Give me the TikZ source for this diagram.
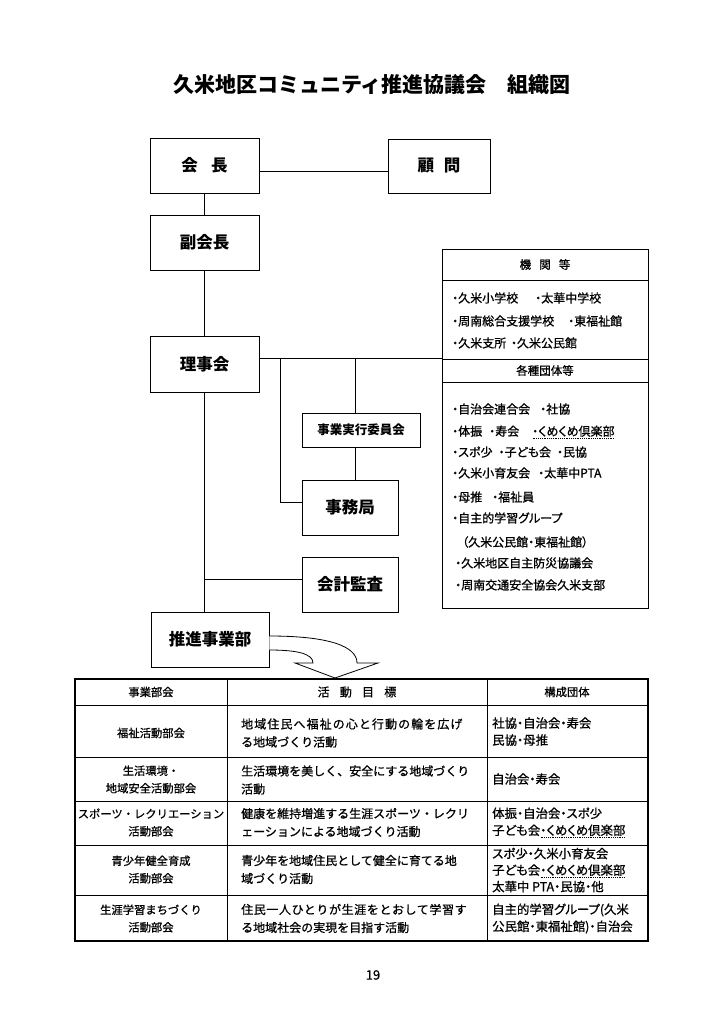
\documentclass[tikz,border=0pt]{standalone}
\usepackage{fontspec}
\setmainfont{Noto Sans CJK JP}
\newfontfamily\jpr[FakeBold=0.8]{Noto Sans CJK JP}
\newfontfamily\jpp[RawFeature=+palt,FakeBold=0.8]{Noto Sans CJK JP}
\usetikzlibrary{calc}
\newcommand\myDotUL[1]{\setbox0=\hbox{#1}\rlap{\raisebox{-2.6pt}{\hbox to \wd0{\xleaders\hbox to 1.8pt{\hss\rule{1pt}{0.6pt}\hss}\hfill}}}\box0}
\begin{document}
\begin{tikzpicture}[x=1pt,y=-1pt,
  box/.style={draw,line width=0.9pt,inner sep=0pt,font=\fontsize{16.5}{18}\selectfont\bfseries},
  ln/.style={line width=0.9pt},
  rbx/.style={draw,line width=0.9pt,inner sep=0pt,minimum width=206pt,font=\jpr\fontsize{11.5}{13}\selectfont},
  rt/.style={anchor=west,inner sep=0pt,font=\jpp\fontsize{12}{14}\selectfont},
  c1/.style={inner sep=0pt,align=center,font=\jpr\fontsize{11.3}{17.5}\selectfont},
  c2/.style={anchor=west,inner sep=0pt,align=left,font=\jpr\fontsize{12}{18}\selectfont},
  c3/.style={anchor=west,inner sep=0pt,align=left,font=\jpp\fontsize{12.4}{17}\selectfont},
  tout/.style={line width=1.4pt},
  tin/.style={line width=0.8pt}]
\useasboundingbox[fill=white] (0,0) rectangle (724,1024);

% title
\node[inner sep=0pt] (title) at (372,85) {\fontsize{21}{24}\selectfont\bfseries 久米地区コミュニティ推進協議会\hspace{1em}組織図};

% main boxes
\node[box,minimum width=109pt,minimum height=55pt] (kaicho) at (204.5,165.5) {会\hspace{0.8em}長};
\node[box,minimum width=102pt,minimum height=54pt] (komon) at (439,166) {顧\hspace{0.6em}問};
\node[box,minimum width=109pt,minimum height=55pt] (fuku) at (204.5,242.5) {副会長};
\node[box,minimum width=109pt,minimum height=56pt] (riji) at (204.5,364) {理事会};
\node[box,minimum width=118pt,minimum height=34pt,font=\fontsize{12.5}{14}\selectfont\bfseries] (jikko) at (361,430) {事業実行委員会};
\node[box,minimum width=96pt,minimum height=55pt] (jimu) at (350,507.5) {事務局};
\node[box,minimum width=96pt,minimum height=55pt] (kansa) at (350,584.5) {会計監査};
\node[box,minimum width=118pt,minimum height=55pt] (suishin) at (210,639.5) {推進事業部};

% right box
\node[rbx,minimum height=31pt] (rh1) at (545,264.5) {機\hspace{0.7em}関\hspace{0.7em}等};
\node[rbx,minimum height=79pt] (rb1) at (545,319.5) {};
\node[rbx,minimum height=23pt] (rh2) at (545,370.5) {各種団体等};
\node[rbx,minimum height=226pt] (rb2) at (545,495) {};

\node[rt] (r1) at (452,298) {\makebox[83pt][l]{・久米小学校}・太華中学校};
\node[rt] (r2) at (452,321) {\makebox[116pt][l]{・周南総合支援学校}・東福祉館};
\node[rt] (r3) at (452,343) {・久米支所\hspace{0.4em}・久米公民館};
\node[rt] (r4) at (452,409) {\makebox[88pt][l]{・自治会連合会}・社協};
\node[rt] (r5) at (452,432) {\makebox[37pt][l]{・体振}\makebox[43pt][l]{・寿会}\myDotUL{・くめくめ倶楽部}};
\node[rt] (r6) at (452,452) {・スポ少\hspace{0.5em}・子ども会\hspace{0.5em}・民協};
\node[rt] (r7) at (452,473) {\makebox[86pt][l]{・久米小育友会}・太華中PTA};
\node[rt] (r8) at (452,497) {\makebox[40pt][l]{・母推}・福祉員};
\node[rt] (r9) at (452,518) {・自主的学習グループ};
\node[rt] (r10) at (462,542) {（久米公民館・東福祉館）};
\node[rt] (r11) at (455,563) {・久米地区自主防災協議会};
\node[rt] (r12) at (455,585) {・周南交通安全協会久米支部};

% connectors
\draw[ln] ([yshift=-5.5pt]kaicho.east) -- ([yshift=-5.5pt]kaicho.east -| komon.west);
\draw[ln] (kaicho) -- (fuku);
\draw[ln] (fuku) -- (riji);
\draw[ln] (riji.south) -- (riji.south |- suishin.north);
\draw[ln] ([yshift=6pt]riji.east) -- ([yshift=6pt]riji.east -| rh2.west);
\coordinate (t1) at (280,358);
\coordinate (t2) at (355,358);
\draw[ln] (t1) |- ([yshift=5.5pt]jimu.west);
\draw[ln] (t2) -- (t2 |- jikko.north);
\draw[ln] (t2 |- jikko.south) -- (t2 |- jimu.north);
\coordinate (k1) at (204.5,579);
\draw[ln] (k1) -- (k1 -| kansa.west);

% curved arrow
\draw[line width=0.8pt,fill=white] ($(suishin.east)+(0,-3.5)$) .. controls (328,636) and (357,646) .. (357,663) -- (378,663) -- (335,678) -- (295,663) -- (313,663) .. controls (313,654) and (298,650) .. ($(suishin.east)+(0,10.5)$);

% table grid
\draw[tin] (75,705) -- (648,705);
\draw[tin] (75,757) -- (648,757);
\draw[tin] (75,801) -- (648,801);
\draw[tin] (75,845) -- (648,845);
\draw[tin] (75,895) -- (648,895);
\draw[tin] (227,679) -- (227,941);
\draw[tin] (487,679) -- (487,941);
\draw[tout] (75,679) rectangle (648,941);

% table header
\node[c1] (h1) at (151,692) {事業部会};
\node[c1,font=\jpr\fontsize{12}{14}\selectfont] (h2) at (357,692) {活\hspace{0.85em}動\hspace{0.85em}目\hspace{0.85em}標};
\node[c1] (h3) at (567,692) {構成団体};

% row 1
\node[c1] (a1) at (151,733) {福祉活動部会};
\node[c2] (b1) at (241,733) {{\addfontfeature{LetterSpace=9}地域住民へ福祉の心と行動の輪を広げ}\\る地域づくり活動};
\node[c3] (d1) at (492,731.5) {社協・自治会・寿会\\民協・母推};
% row 2
\node[c1] (a2) at (151,779.5) {生活環境・\\地域安全活動部会};
\node[c2] (b2) at (241,780) {生活環境を美しく、安全にする地域づくり\\活動};
\node[c3] (d2) at (492,779) {自治会・寿会};
% row 3
\node[c1] (a3) at (151,822.5) {スポーツ・レクリエーション\\活動部会};
\node[c2] (b3) at (241,822.5) {健康を維持増進する生涯スポーツ・レクリ\\ェーションによる地域づくり活動};
\node[c3] (d3) at (492,822.5) {体振・自治会・スポ少\\子ども会\myDotUL{・くめくめ倶楽部}};
% row 4
\node[c1] (a4) at (151,869.5) {青少年健全育成\\活動部会};
\node[c2] (b4) at (241,869.5) {青少年を地域住民として健全に育てる地\\域づくり活動};
\node[c3,font=\jpp\fontsize{12.4}{16.5}\selectfont] (d4) at (492,870) {スポ少・久米小育友会\\子ども会\myDotUL{・くめくめ倶楽部}\\太華中 PTA・民協・他};
% row 5
\node[c1] (a5) at (151,918.5) {生涯学習まちづくり\\活動部会};
\node[c2] (b5) at (241,918.5) {{\addfontfeature{LetterSpace=5}住民一人ひとりが生涯をとおして学習す}\\る地域社会の実現を目指す活動};
\node[c3] (d5) at (492,918.5) {自主的学習グループ(久米\\公民館・東福祉館)・自治会};

% page number
\node[inner sep=0pt,font=\jpr] (pg) at (373,975) {\fontsize{13}{15}\selectfont 19};
\end{tikzpicture}
\end{document}
